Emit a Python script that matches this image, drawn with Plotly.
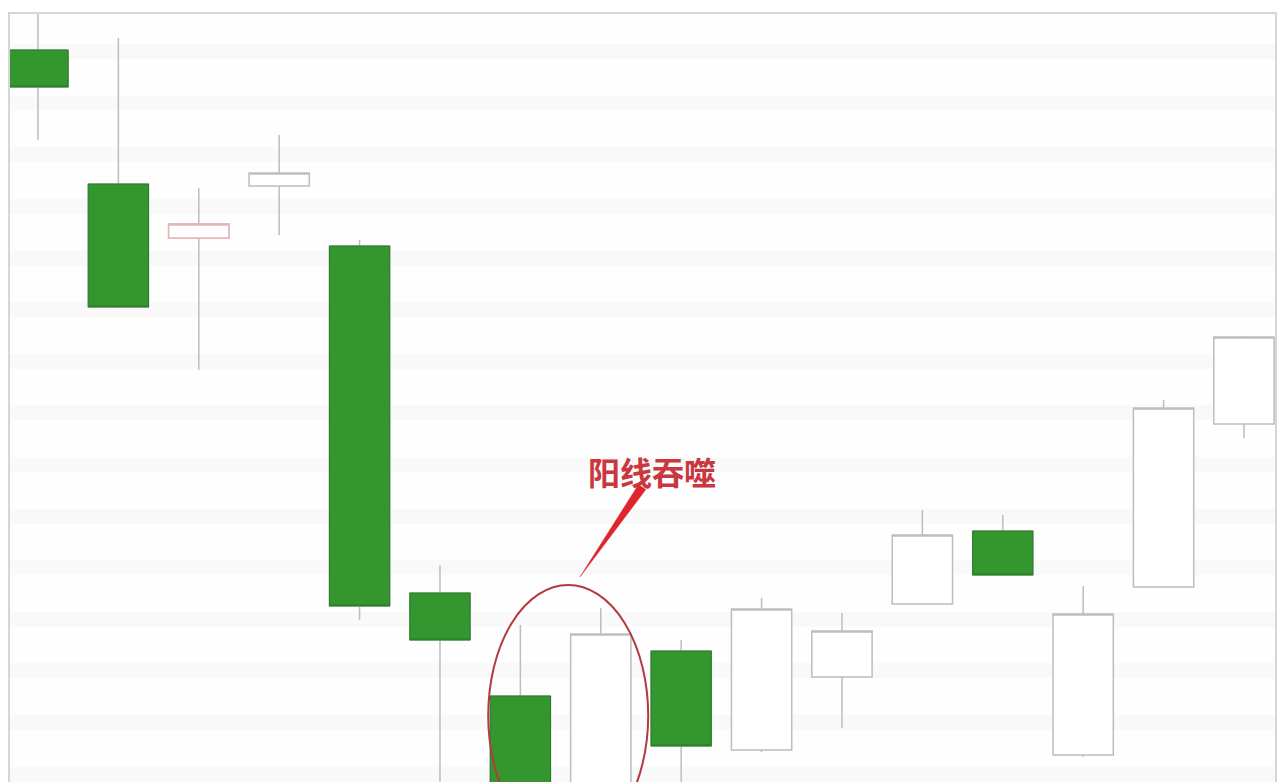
import numpy as np
import plotly.graph_objects as go

# Candle data (16 sessions, arbitrary price units)
sessions = list(range(16))
opens  = [36.60, 29.90, 27.20, 29.80, 26.80, 9.45, 4.30, -3.00, 6.55, 1.60, 5.25, 8.90, 12.55, 1.35, 9.75, 17.90]
highs  = [39.00, 37.20, 29.70, 32.35, 27.10, 10.85, 7.85, 8.70, 7.10, 9.20, 8.45, 13.60, 13.35, 9.80, 19.10, 22.30]
lows   = [32.10, 23.70, 20.60, 27.35, 8.10, -2.00, -3.50, -4.00, -2.50, 1.50, 2.70, 8.90, 10.35, 1.25, 9.75, 17.20]
closes = [34.75, 23.75, 27.90, 30.45, 8.80, 7.10, -2.40, 7.40, 1.80, 8.65, 7.55, 12.35, 10.35, 8.40, 18.70, 22.25]

label_text = "阳线吞噬"

o = np.array(opens); h = np.array(highs); l = np.array(lows); c = np.array(closes); x = np.array(sessions)
body_hi = np.maximum(o, c)
body_lo = np.minimum(o, c)
down = c < o
pink = np.zeros(len(x), dtype=bool)
pink[2] = True  # the pink-outlined doji

GREEN = "#33962f"
GREEN_EDGE = "#2a7a28"
GRAY = "#bdbdbd"

fig = go.Figure()
# wicks + bodies
fig.add_trace(go.Candlestick(
    x=x, open=o, high=h, low=l, close=c,
    increasing=dict(line=dict(color=GRAY, width=1.5), fillcolor="#ffffff"),
    decreasing=dict(line=dict(color=GRAY, width=1.5), fillcolor=GREEN),
    whiskerwidth=0, showlegend=False, hoverinfo="skip"))
# green body outlines
fig.add_trace(go.Candlestick(
    x=x[down], open=o[down], high=body_hi[down], low=body_lo[down], close=c[down],
    increasing=dict(line=dict(color=GREEN_EDGE, width=1), fillcolor=GREEN),
    decreasing=dict(line=dict(color=GREEN_EDGE, width=1), fillcolor=GREEN),
    whiskerwidth=0, showlegend=False, hoverinfo="skip"))
# pinkish doji outline
fig.add_trace(go.Candlestick(
    x=x[pink], open=o[pink], high=body_hi[pink], low=body_lo[pink], close=c[pink],
    increasing=dict(line=dict(color="#e6b4b8", width=1.5), fillcolor="#ffffff"),
    decreasing=dict(line=dict(color="#e6b4b8", width=1.5), fillcolor="#ffffff"),
    whiskerwidth=0, showlegend=False, hoverinfo="skip"))

# ellipse around the engulfing pair
fig.add_shape(type="circle", xref="x", yref="y", x0=5.60, x1=7.59, y0=-3.2, y1=9.85,
              line=dict(color="#b23a40", width=2), layer="above")
# tapered pointer
fig.add_shape(type="path", xref="x", yref="y",
              path="M 6.741,10.25 L 7.56,14.62 L 7.47,14.88 Z",
              fillcolor="#e0242e", line=dict(color="#d8303a", width=0.5), layer="above")

fig.add_annotation(x=7.637, y=15.55, xref="x", yref="y", text="<b>" + label_text + "</b>",
                   showarrow=False,
                   font=dict(family="Noto Sans CJK SC", size=32, color="#c8383e"))

fig.update_layout(
    width=1280, height=782,
    margin=dict(l=10, r=5, t=14, b=0),
    paper_bgcolor="#ffffff", plot_bgcolor="#fefefe",
    boxgap=0.25, boxgroupgap=0,
    hovermode=False,
    xaxis=dict(range=[-0.348, 15.386], showgrid=False, zeroline=False, showticklabels=False,
               ticks="", rangeslider=dict(visible=False), showline=True, mirror=True,
               linecolor="#d6d6d6", linewidth=1.5),
    yaxis=dict(range=[0, 38.4], showgrid=True, gridcolor="#f9f9f9", gridwidth=15,
               dtick=2.58, tick0=0.4, zeroline=False, showticklabels=False, ticks="",
               showline=True, mirror=True, linecolor="#d6d6d6", linewidth=1.5),
)

fig.write_html("out.html", config={"displayModeBar": False},
               post_script="document.body.style.margin='0';document.body.style.overflow='hidden';")
